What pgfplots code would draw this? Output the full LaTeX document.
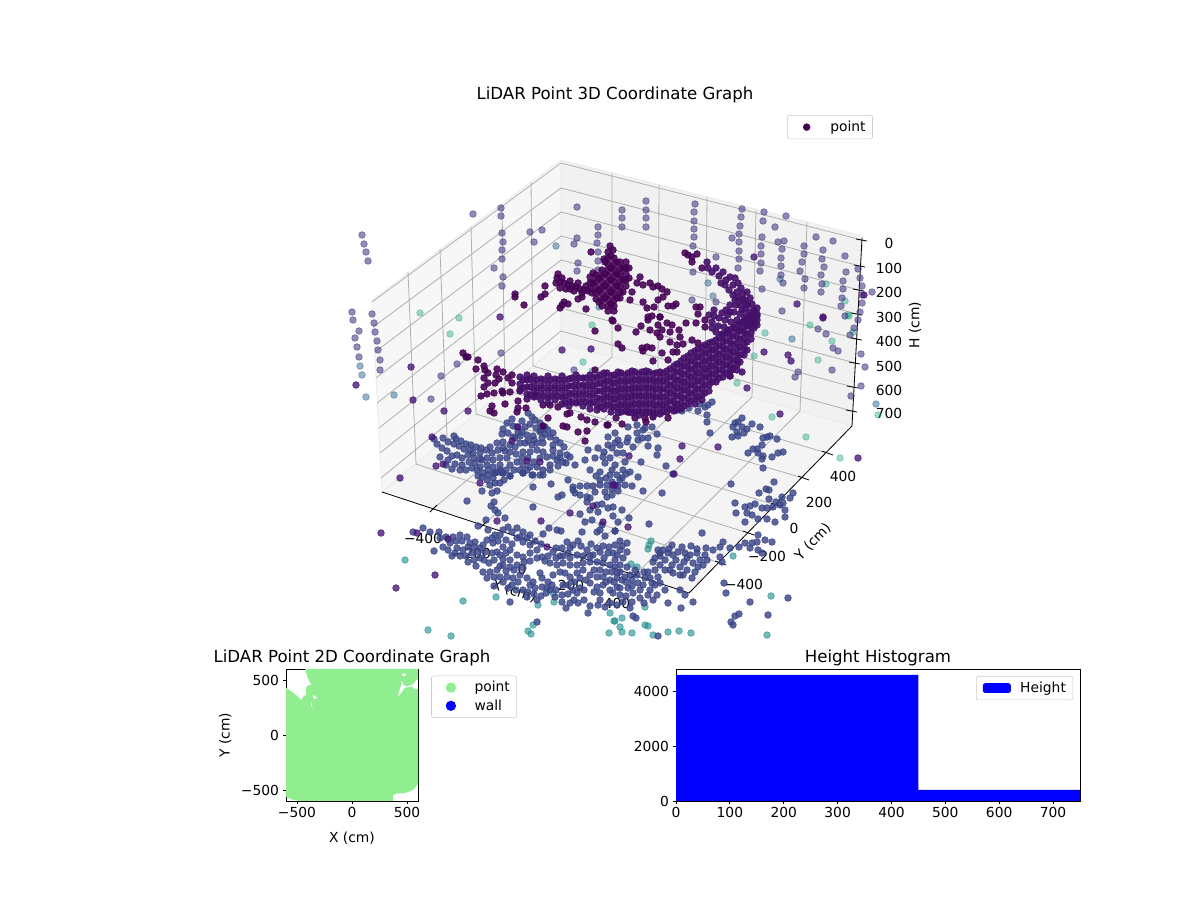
\documentclass[border=0pt]{standalone}
\usepackage{pgfplots}
\pgfplotsset{compat=1.18}
\usepackage{fontspec}
\setmainfont{DejaVu Sans}
\definecolor{gridc}{HTML}{B0B0B0}
\definecolor{cP}{HTML}{440154}
\definecolor{cR}{HTML}{45106A}
\definecolor{cQ}{HTML}{461476}
\definecolor{cF}{HTML}{3B4688}
\definecolor{cW}{HTML}{443983}
\definecolor{cS}{HTML}{31688E}
\definecolor{cT}{HTML}{21A585}
\definecolor{cB}{HTML}{218F8D}
\definecolor{green2}{HTML}{90EE90}
\pgfplotsset{
  pts/.style n args={2}{only marks, mark=*, mark size=2.4bp,
    mark options={draw=#1, fill=#1, line width=0.5bp, draw opacity=#2, fill opacity=#2}},
  gl/.style={gridc, line width=0.58bp, forget plot},
  tk/.style={black, line width=0.58bp, forget plot},
  legstyle/.style={legend cell align=left,
    legend style={draw=black!20, rounded corners=1.5bp, font=\fontsize{10}{12}\selectfont}},
  realax/.style={scale only axis, axis line style={line width=0.58bp}, tick align=outside,
    major tick length=2.52bp, tick style={black, line width=0.58bp},
    xtick pos=bottom, ytick pos=left, title style={font=\fontsize{12}{14}\selectfont, yshift=-7bp},
    xticklabel style={yshift=1.5bp}, yticklabel style={xshift=1bp}, legstyle},
}
\begin{document}
\begin{tikzpicture}
\useasboundingbox (0,0) rectangle (864bp,648bp);
% background: panes, grid, ticks and labels of the 3D plot, in reference pixel coordinates
\begin{axis}[at={(0,0)}, anchor=south west, scale only axis, width=864bp, height=648bp,
  hide axis, xmin=0, xmax=1200, ymin=0, ymax=900, y dir=reverse, clip=false]
\addplot[fill=black!3, draw=black!8, line width=0.6bp, forget plot] coordinates {(372,300)(561,160)(561,343)(382,492)} --cycle;
\addplot[fill=black!5.5, draw=black!8, line width=0.6bp, forget plot] coordinates {(561,160)(863,236)(852,426)(561,343)} --cycle;
\addplot[fill=black!4.5, draw=black!8, line width=0.6bp, forget plot] coordinates {(382,492)(561,343)(852,426)(689,593)} --cycle;
\addplot[gl] coordinates {(372,302)(561,163)(862,240)};
\addplot[gl] coordinates {(373,327)(561,188)(860,266)};
\addplot[gl] coordinates {(375,352)(561,212)(859,290)};
\addplot[gl] coordinates {(376,378)(561,236)(857,314)};
\addplot[gl] coordinates {(377,403)(561,260)(857,339)};
\addplot[gl] coordinates {(379,428)(561,284)(855,363)};
\addplot[gl] coordinates {(380,453)(561,308)(853,387)};
\addplot[gl] coordinates {(381,478)(561,331)(852,411)};
\addplot[gl] coordinates {(408,272)(416,464)(720,563)};
\addplot[gl] coordinates {(440,249)(447,438)(748,533)};
\addplot[gl] coordinates {(471,227)(476,414)(776,505)};
\addplot[gl] coordinates {(502,205)(505,390)(803,478)};
\addplot[gl] coordinates {(531,182)(533,366)(827,453)};
\addplot[gl] coordinates {(612,173)(612,357)(433,509)};
\addplot[gl] coordinates {(659,185)(658,371)(483,525)};
\addplot[gl] coordinates {(707,197)(705,384)(533,542)};
\addplot[gl] coordinates {(756,210)(752,397)(583,558)};
\addplot[gl] coordinates {(807,222)(800,411)(635,575)};
\addplot[tk] coordinates {(382,492)(689,593)(852,426)(862,238)};
\addplot[tk] coordinates {(856,239)(867,241)};
\addplot[tk] coordinates {(854,265)(865,267)};
\addplot[tk] coordinates {(853,289)(864,291)};
\addplot[tk] coordinates {(851,313)(862,315)};
\addplot[tk] coordinates {(851,338)(862,340)};
\addplot[tk] coordinates {(849,362)(860,364)};
\addplot[tk] coordinates {(847,386)(858,388)};
\addplot[tk] coordinates {(846,410)(857,412)};
\addplot[tk] coordinates {(430,512)(437,505)};
\addplot[tk] coordinates {(480,528)(487,521)};
\addplot[tk] coordinates {(530,545)(537,538)};
\addplot[tk] coordinates {(580,561)(587,554)};
\addplot[tk] coordinates {(632,578)(639,571)};
\addplot[tk] coordinates {(715,561)(726,565)};
\addplot[tk] coordinates {(743,531)(754,535)};
\addplot[tk] coordinates {(771,503)(782,507)};
\addplot[tk] coordinates {(798,476)(809,480)};
\addplot[tk] coordinates {(822,451)(833,455)};
\node[font=\fontsize{12}{14}\selectfont] at (615,95) {LiDAR Point 3D Coordinate Graph};
\foreach \v/\y in {0/243,100/268,200/292,300/317,400/341,500/366,600/390,700/413}{
  \edef\temp{\noexpand\node[anchor=base] at (axis cs:889,\y+5) {\v};}\temp}
\node[rotate=90] at (915,325) {H (cm)};
\node at (423,538) {−400};
\node at (472,553) {−200};
\node at (522,569) {0};
\node at (571,585) {200};
\node at (617,603) {400};
\node[rotate=-18] at (514,591) {X (cm)};
\node at (744,584) {−400};
\node at (767,556) {−200};
\node at (794,528) {0};
\node at (819,502) {200};
\node at (843,476) {400};
\node[rotate=46] at (813,542) {Y (cm)};
\end{axis}
% points of the 3D plot, as seen on the screen, clipped as in the reference
\begin{axis}[at={(253.44bp,190.08bp)}, anchor=south west, scale only axis, width=378.72bp, height=377.28bp,
  hide axis, xmin=352, xmax=878, ymin=112, ymax=636, y dir=reverse]
\addplot[pts={cT}{0.42}] coordinates {(420,313)(459,318)(450,334)(583,362)(592,371)(592,325)(826,284)(845,301)(849,316)(810,325)(765,333)(754,356)(818,360)(737,383)(772,417)(806,437)(840,458)(832,341)(848,315)(853,332)(878,415)};
\addplot[pts={cS}{0.5}] coordinates {(556,246)(366,397)(394,395)(708,283)(713,296)(780,279)(792,339)(599,307)(876,404)(360,366)(362,375)};
\addplot[pts={cW}{0.58}] coordinates {(473,214)(501,208)(501,216)(502,233)(503,242)(502,250)(502,259)(494,268)(503,277)(502,286)(530,232)(542,230)(534,242)(577,207)(598,227)(598,235)(597,243)(598,252)(598,261)(598,270)(577,238)(574,244)(578,263)(577,271)
(362,235)(364,244)(366,252)(368,261)(350,295)(351,302)(352,312)(353,320)(372,314)(374,323)(375,332)(377,341)(378,350)(380,360)(380,370)(359,331)(355,338)(357,347)(359,357)(431,399)(441,376)(457,364)(501,353)(574,370)
(646,201)(646,210)(646,218)(646,227)(622,210)(622,218)(622,227)(695,204)(694,212)(694,221)(694,229)(694,237)(693,246)(693,272)(716,257)(742,209)(741,217)(740,226)(739,234)(739,242)(739,251)(739,259)(738,268)(764,212)(763,221)(775,227)(786,216)(762,237)(761,246)(761,254)(761,263)(760,271)(778,242)(784,241)(782,249)(781,258)(781,266)(781,275)(783,283)(762,289)(816,237)(833,241)(804,246)(804,254)(802,262)(800,271)(805,279)(804,288)(823,250)(822,259)(824,267)(821,275)(822,284)(821,292)(845,256)(846,272)(843,281)(843,289)(842,298)(841,306)(845,316)(858,269)(860,278)(862,286)(862,295)(872,292)(862,303)(860,312)(782,311)(692,300)(716,302)(732,238)
(818,329)(826,334)(833,348)(838,351)(850,335)(854,328)(858,320)(861,354)(865,367)(861,386)(851,396)(832,370)(795,377)(798,372)};
\addplot[pts={cB}{0.62}] coordinates {(405,560)(463,601)(496,597)(428,630)(451,636)(528,631)(533,625)(531,634)(553,593)(538,605)(554,602)(610,613)(615,621)(609,633)(620,627)(651,541)(648,549)(649,545)(631,564)(637,567)(645,607)(622,618)(614,621)(645,625)(648,626)(668,632)(679,631)(691,633)(622,632)(632,633)(653,635)(767,635)(733,556)(771,596)};
\addplot[pts={cF}{0.82}] coordinates {
(512,419)(517,427)(522,421)(528,413)(532,417)(535,420)(540,423)(548,430)(503,429)(502,434)(508,433)(513,437)(522,432)(527,435)(533,436)(542,438)(550,437)(503,442)(510,445)(515,447)(520,443)(525,443)(532,445)(537,443)(543,443)(553,445)(523,452)(530,452)(537,450)(543,452)(553,450)(560,453)(567,455)(570,457)
(434,439)(437,444)(442,448)(447,451)(443,438)(448,442)(454,444)(454,436)(459,446)(464,449)(470,450)(473,453)(480,453)(457,455)(452,456)(440,457)(455,464)(462,465)(469,462)(475,463)(482,460)(490,447)(492,453)(498,450)(487,458)(493,460)(500,458)(507,458)(480,467)(487,465)(493,467)(500,465)(510,465)(517,462)(523,465)(530,467)(537,467)(543,470)(550,465)(557,460)(563,462)(477,470)(483,473)(497,472)(503,473)(510,476)(523,473)(533,475)(543,475)(482,477)(488,475)(495,473)(503,473)(510,476)(523,473)(532,475)(540,475)
(482,491)(490,485)(495,483)(500,483)(492,493)(497,491)(467,501)(494,502)(491,506)(495,510)(498,513)(505,518)(486,520)(478,526)(533,507)(533,487)(551,484)(580,514)(602,525)
(558,497)(562,495)(568,480)(573,487)(580,486)(587,486)(593,486)(600,485)(607,485)(573,490)(587,497)(590,498)(607,497)(612,495)(598,512)(597,505)(602,504)(587,502)
(582,532)(597,532)(605,536)(615,531)(549,528)(557,530)(561,531)(543,534)
(413,532)(423,528)(430,532)(439,532)(440,538)(453,537)(460,535)(467,537)(475,542)(443,547)(434,551)(448,550)(452,556)(457,548)(463,550)(470,543)(483,545)(493,543)(495,535)(503,530)(508,527)(488,530)(517,528)(523,532)(530,535)(517,538)(503,547)(510,550)(523,542)(530,545)(537,550)(560,556)(567,542)(573,545)(578,541)(568,553)(577,555)(587,550)(593,555)(608,553)(617,555)
(468,562)(480,558)(485,552)(492,553)(497,552)(503,559)(510,560)(517,555)(523,557)(530,553)(537,558)(542,557)(550,563)(557,565)(563,563)(570,565)(577,565)(583,563)(590,562)(597,562)(603,563)(610,565)(615,567)(483,572)(490,572)(497,570)(503,565)(510,567)(517,565)(523,568)(500,577)(507,577)(513,578)(520,575)(527,578)(533,582)(540,573)(542,578)(548,582)(553,575)(560,572)(565,573)(570,577)(577,573)(583,570)(590,575)(597,577)(603,577)(610,580)(617,578)(494,586)(503,582)(523,590)(530,585)(535,588)(542,587)(547,588)(552,585)(563,585)(573,590)(580,588)(590,583)(597,587)(603,585)(610,590)(617,587)(527,597)(537,600)(541,596)(555,597)(562,595)(570,603)(562,602)(577,593)(510,602)(590,606)(598,605)(605,607)(610,603)(617,605)(588,613)
(638,477)(643,491)(662,493)(613,507)(613,516)(629,518)(649,524)(615,531)(702,533)(731,484)(735,503)(736,513)(745,522)(774,482)(766,489)(759,493)(769,490)(793,493)(782,497)(790,498)(769,499)(776,502)(745,507)(750,506)(755,504)(762,508)(767,508)(773,507)(780,505)(783,503)(785,510)(785,517)(775,522)(767,519)(758,519)(752,515)(747,513)
(758,535)(765,540)(772,542)(757,542)(752,543)(745,543)(739,547)(750,548)(758,550)(762,553)(730,548)(723,542)(720,547)(713,550)(720,557)(722,562)
(658,550)(663,550)(669,549)(682,547)(691,546)(697,549)(660,556)(665,560)(673,555)(678,552)(685,553)(697,553)(705,555)(707,560)(687,558)(693,563)(698,567)(703,565)(670,570)(673,573)(683,575)(692,578)(695,572)(653,562)(680,567)
(620,541)(627,543)(620,550)(627,552)(613,553)(615,560)(623,558)(620,565)(627,567)(617,573)(625,577)(635,570)(645,578)(648,572)(655,570)(658,577)(638,583)(643,585)(652,583)(660,583)(665,590)(640,590)(648,595)(653,600)(657,595)(628,588)(620,588)(633,593)(632,602)(623,602)(620,595)(613,593)(680,590)(685,595)(668,603)(681,608)(693,602)
(724,583)(726,593)(750,602)(788,598)(768,615)(739,614)(735,616)(731,622)(733,625)(537,622)(633,616)(636,618)(658,636)
(712,402)(708,405)(700,404)(705,407)(698,411)(707,415)(707,422)(710,433)(689,408)(682,411)(657,434)(658,448)(657,455)(666,466)(641,462)(673,474)
(742,418)(738,422)(733,427)(752,424)(760,427)(742,427)(747,429)(737,432)(744,433)(732,437)(738,436)(735,423)(767,437)(763,438)(777,439)(762,445)(757,449)(753,449)(748,453)(758,453)(763,456)(762,459)(772,457)(778,453)(783,452)(763,468)(770,436)
(637,425)(628,427)(645,428)(652,427)(637,433)(628,438)(615,433)(608,437)(615,443)(620,445)(627,442)(633,447)(638,440)(642,438)(648,438)(648,446)(617,453)(623,453)(625,462)(623,470)(622,478)(603,457)(605,463)(612,470)(617,475)(630,472)(643,430)(588,450)(595,458)(590,470)(600,472)(575,465)(585,460)
(446,537)(450,543)(456,541)(462,541)(468,547)(474,547)(480,548)(487,540)(492,538)(498,541)(455,553)(460,556)(466,556)(472,553)(478,552)(484,560)(489,563)(494,560)(500,555)(506,553)(512,544)(506,540)(500,535)(512,532)(520,537)(527,538)(535,541)(541,544)(548,556)(553,552)(556,548)(562,548)(570,548)(581,546)(591,544)(597,548)(603,546)(609,547)(615,545)(622,546)(600,552)(604,558)(590,556)(583,556)(570,558)(563,556)(556,558)(545,561)(530,561)(524,562)(514,570)(506,571)(500,566)(494,577)(487,578)(476,566)(474,560)
(518,582)(512,585)(508,588)(516,590)(528,592)(534,594)(546,593)(550,590)(556,590)(568,585)(574,582)(580,578)(586,580)(594,570)(600,570)(606,572)(612,572)(620,572)(630,575)(632,580)(637,575)(644,572)(650,578)(655,585)(650,590)(632,586)(626,582)(622,580)(614,582)(606,582)(600,593)(594,592)(584,590)(568,594)(574,600)(578,603)(566,608)(584,600)(600,600)(626,596)(640,598)(644,603)(630,608)
(575,493)(580,495)(595,492)(605,492)(612,489)(618,491)(625,485)(632,486)(608,508)(590,510)(585,522)(592,520)(618,522)(622,510)(600,530)
(456,439)(461,441)(466,444)(471,445)(476,447)(481,448)(486,450)(468,455)(474,458)(480,459)(462,458)(448,460)(446,465)(452,469)(460,470)(466,470)(472,468)(488,470)(494,473)(500,472)(506,470)(514,470)(520,470)(527,470)(534,462)(540,458)(547,457)(553,456)(560,458)(566,463)(558,466)(550,470)(505,451)(510,452)(516,454)(522,458)(528,458)(497,443)(503,448)(515,438)(520,436)(528,441)(534,440)(540,432)(545,434)(553,433)(556,440)(560,443)(564,447)(507,423)(513,426)(518,432)(525,427)(530,424)(536,428)(541,430)(545,427)(500,470)(478,476)(487,480)(493,478)(504,480)
(612,482)(618,486)(610,475)(606,478)(600,480)(596,476)(620,480)(626,474)(615,465)(610,458)(604,452)(598,448)(612,448)(618,440)(608,445)
(660,553)(668,553)(672,545)(676,560)(684,562)(690,555)(700,560)(706,548)(672,565)(680,575)(687,570)(665,570)(660,565)(655,558)
};
\addplot[pts={cQ}{0.78}] coordinates {(381,533)(435,575)(396,588)(400,478)(480,483)(497,521)(541,521)(570,513)(603,522)(613,485)(593,506)(417,533)(448,539)(547,547)(432,437)(436,466)(443,464)(512,441)(518,427)(540,462)(527,461)(628,527)(615,485)(674,474)(682,446)(718,447)(680,459)(629,456)(411,367)(413,400)(356,385)(500,317)(444,411)(468,411)(562,350)(591,349)(823,317)(764,352)(788,355)(791,361)(747,388)(780,414)(858,458)(797,304)(754,257)(823,318)(864,295)};
\addplot[pts={cP}{0.88}] coordinates {
(463,353)(466,357)(468,357)(478,360)(476,369)(484,366)(485,370)(497,369)(503,372)(488,373)(496,375)(512,375)(484,378)(499,379)(508,378)(488,383)(495,383)(512,383)(484,387)(487,394)(481,396)(494,393)(502,391)(503,393)(510,392)(520,390)(518,401)(505,404)(492,406)(490,411)(494,413)(517,412)(518,408)(527,399)(535,395)(526,408)(543,405)(550,405)(558,407)(548,418)(543,426)(563,426)(567,427)(578,432)(587,431)(585,441)(607,425)(595,422)(587,420)(581,417)(570,413)(567,414)
(590,277)(590,283)(590,289)(596,275)(596,281)(596,287)(596,293)(596,299)(602,270)(602,276)(602,282)(602,288)(602,294)(602,300)(602,306)(608,252)(608,258)(608,264)(608,270)(608,276)(608,282)(608,288)(608,294)(608,300)(608,306)(608,311)(614,258)(614,264)(614,270)(614,276)(614,282)(614,288)(614,294)(614,300)(614,306)(614,311)(620,262)(620,268)(620,274)(620,280)(620,286)(620,292)(620,298)(626,262)(626,268)(626,274)(626,280)(626,286)
(599,278)(599,290)(599,302)(605,262)(605,274)(605,286)(605,298)(611,256)(611,268)(611,280)(611,292)(611,304)(617,262)(617,274)(617,286)(617,298)(623,268)(623,280)(623,292)(629,268)(629,278)(593,283)(593,273)(610,246)(613,250)
(557,278)(560,282)(564,283)(568,285)(572,286)(576,287)(580,289)(584,290)(588,291)(592,293)(558,274)(556,283)(562,278)(570,281)(578,283)(586,286)(566,289)(574,291)(582,293)
(591,252)(604,259)(545,286)(515,294)(515,297)(545,294)(541,297)(524,305)(564,302)(560,308)(568,304)(562,305)(586,309)(578,299)(582,297)(560,288)(570,289)
(640,277)(637,283)(643,285)(650,283)(653,287)(658,286)(662,289)(667,292)(663,297)(658,300)(630,300)(632,292)(643,302)(647,308)(654,307)(668,306)(673,306)(676,304)(696,307)(700,307)(698,314)(652,316)(660,317)(685,253)(688,255)(692,257)(697,254)(692,262)(702,268)
(613,321)(618,328)(636,332)(641,326)(648,320)(648,317)(650,330)(660,317)(658,325)(667,323)(672,325)(662,330)(657,333)(660,337)(670,332)(679,330)(680,337)(686,323)(696,323)(705,320)(705,327)(692,340)(683,344)(677,345)(670,342)(698,343)(677,352)(673,352)(642,348)(647,347)(652,348)(643,351)(618,344)(622,348)(653,361)(662,353)(668,360)(612,320)(595,331)(595,370)
(616,418)(608,425)(622,424)(635,418)(645,418)(653,417)(668,418)(628,412)(646,422)(730,376)};
\addplot[pts={cR}{0.9}] coordinates {
(520,377)(520,384)(520,391)(527,375)(527,380)(527,387)(527,394)(534,376)(534,383)(534,390)(534,397)(541,379)(541,386)(541,393)(541,400)(548,376)(548,383)(548,390)(548,397)(548,403)(555,379)(555,386)(555,393)(555,400)(562,376)(562,383)(562,390)(562,397)(562,404)(569,379)(569,386)(569,393)(569,400)(569,406)(576,375)(576,382)(576,389)(576,396)(576,403)(583,378)(583,385)(583,392)(583,399)(583,406)(590,375)(590,382)(590,389)(590,396)(590,403)(590,409)(597,377)(597,384)(597,391)(597,398)(597,405)(597,410)
(604,373)(604,379)(604,385)(604,391)(604,397)(604,403)(604,409)(611,376)(611,382)(611,388)(611,394)(611,400)(611,406)(611,412)(618,372)(618,378)(618,384)(618,390)(618,396)(618,402)(618,408)(618,413)(625,375)(625,381)(625,387)(625,393)(625,399)(625,405)(625,411)(632,371)(632,377)(632,383)(632,389)(632,395)(632,401)(632,407)(632,413)(639,374)(639,380)(639,386)(639,392)(639,398)(639,404)(639,410)(639,415)(646,371)(646,377)(646,383)(646,389)(646,395)(646,401)(646,407)(646,413)(653,374)(653,380)(653,386)(653,392)(653,398)(653,404)(653,410)(653,415)(660,372)(660,378)(660,384)(660,390)(660,396)(660,402)(660,408)(660,414)(667,371)(667,377)(667,383)(667,389)(667,395)(667,401)(667,407)(667,412)
(674,366)(674,372)(674,378)(674,384)(674,390)(674,396)(674,402)(674,408)(674,411)(681,361)(681,367)(681,373)(681,379)(681,385)(681,391)(681,397)(681,403)(681,409)(688,356)(688,362)(688,368)(688,374)(688,380)(688,386)(688,392)(688,398)(688,404)(695,351)(695,357)(695,363)(695,369)(695,375)(695,381)(695,387)(695,393)(695,399)(695,404)(702,347)(702,353)(702,359)(702,365)(702,371)(702,377)(702,383)(702,389)(702,395)(702,400)(709,343)(709,349)(709,355)(709,361)(709,367)(709,373)(709,379)(709,385)(709,391)(716,340)(716,346)(716,352)(716,358)(716,364)(716,370)(716,376)(716,382)(723,335)(723,341)(723,347)(723,353)(723,359)(723,365)(723,371)(723,377)(730,330)(730,336)(730,342)(730,348)(730,354)(730,360)(730,366)(730,371)(737,325)(737,331)(737,337)(737,343)(737,349)(737,355)(737,361)(737,365)(744,320)(744,326)(744,332)(744,338)(744,344)(744,350)(744,355)(751,315)(751,321)(751,327)(751,333)(751,339)(757,308)(757,314)(757,320)(757,325)
(600,375)(600,383)(600,391)(600,399)(600,407)(607,373)(607,381)(607,389)(607,397)(607,405)(614,375)(614,383)(614,391)(614,399)(614,407)(621,373)(621,381)(621,389)(621,397)(621,405)(621,412)(628,373)(628,381)(628,389)(628,397)(628,405)(628,412)(635,372)(635,380)(635,388)(635,396)(635,404)(635,412)(642,372)(642,380)(642,388)(642,396)(642,404)(642,412)(649,372)(649,380)(649,388)(649,396)(649,404)(649,412)(656,373)(656,381)(656,389)(656,397)(656,405)(656,413)(663,373)(663,381)(663,389)(663,397)(663,405)(663,412)(670,369)(670,377)(670,385)(670,393)(670,401)(670,409)
(677,364)(677,372)(677,380)(677,388)(677,396)(677,404)(677,410)(684,358)(684,366)(684,374)(684,382)(684,390)(684,398)(684,406)(691,353)(691,361)(691,369)(691,377)(691,385)(691,393)(691,401)(698,349)(698,357)(698,365)(698,373)(698,381)(698,389)(698,397)(705,345)(705,353)(705,361)(705,369)(705,377)(705,385)(705,393)(712,342)(712,350)(712,358)(712,366)(712,374)(712,382)(719,338)(719,346)(719,354)(719,362)(719,370)(719,378)(726,333)(726,341)(726,349)(726,357)(726,365)(726,373)(733,328)(733,336)(733,344)(733,352)(733,360)(733,368)(740,323)(740,331)(740,339)(740,347)(740,355)(740,362)(747,318)(747,326)(747,334)(747,342)(747,350)(754,312)(754,320)(754,328)
(523,380)(523,388)(530,379)(530,387)(530,395)(537,380)(537,388)(537,396)(544,380)(544,388)(544,396)(551,380)(551,388)(551,396)(558,380)(558,388)(558,396)(565,380)(565,388)(565,396)(565,403)(572,378)(572,386)(572,394)(572,402)(579,378)(579,386)(579,394)(579,402)(586,378)(586,386)(586,394)(586,402)(593,378)(593,386)(593,394)(593,402)
(707,262)(708,268)(712,272)(716,268)(719,276)(723,272)(726,280)(721,283)(730,277)(735,278)(733,285)(738,283)(741,288)(737,292)(743,294)(747,292)(745,300)(750,298)(752,304)(748,305)(754,310)(750,312)(745,309)(740,305)(735,300)(730,305)(726,310)(722,313)(728,315)(734,312)(740,314)(746,316)(752,318)(757,316)(755,322)(749,324)(743,322)(737,320)(731,322)(725,320)(719,318)(714,316)(712,322)(718,326)(724,327)(716,332)(722,334)(728,330)(734,328)(740,330)(714,310)(709,315)(712,328)(725,285)(729,290)(733,295)(738,298)(742,300)(746,304)(736,305)(730,312)(742,310)
(730,376)(737,370)(742,372)(732,370)};
\end{axis}
% legend of the 3D plot, in its own axis with an upward y
\begin{axis}[legstyle, at={(0,0)}, anchor=south west, scale only axis, width=864bp, height=648bp,
  hide axis, xmin=0, xmax=1, ymin=0, ymax=1,
  legend style={at={(0.6558,0.8722)}, anchor=north west}]
\addlegendimage{legend image code/.code={\path[draw=none,fill=none] (0bp,0bp)--(26bp,0bp); \fill[cP, draw=none] (11bp,0bp) circle (2.7bp);}}
\addlegendentry{point}
\end{axis}
% 2D coordinate graph
\begin{axis}[realax, at={(205.92bp,71.28bp)}, anchor=south west, width=95.04bp, height=95.04bp,
  xmin=-600, xmax=600, ymin=-600, ymax=600,
  xtick={-500,0,500}, xticklabels={−500,0,500}, ytick={-500,0,500}, yticklabels={−500,0,500},
  title={LiDAR Point 2D Coordinate Graph}, xlabel={X (cm)}, ylabel={Y (cm)},
  xlabel style={yshift=-3.5bp}, ylabel style={yshift=0bp},
  legend style={at={(1.1,0.95)}, anchor=north west}]
\addplot[fill=green2, draw=none, forget plot] coordinates {(-427,600)(600,600)(600,515)(554,461)(554,424)(600,415)(600,-445)(554,-500)(479,-530)(418,-530)(373,-545)(373,-600)(-476,-600)(-551,-585)(-600,-560)(-600,430)(-527,379)(-461,318)(-439,355)(-415,364)(-421,409)(-409,448)(-370,457)(-400,515)} --cycle;
\addplot[fill=white, draw=none, forget plot] coordinates {(-355,364)(-318,342)(-339,324)(-355,342)} --cycle;
\addplot[fill=white, draw=none, forget plot] coordinates {(-370,303)(-358,242)(-373,273)} --cycle;
\addplot[fill=white, draw=none, forget plot] coordinates {(465,560)(483,560)(494,548)(483,535)(465,535)(454,548)} --cycle;
\addplot[fill=white, draw=none, forget plot] coordinates {(454,494)(470,455)(494,439)(554,461)(554,440)(479,430)(445,379)(418,354)(433,409)(448,455)} --cycle;
\addlegendimage{legend image code/.code={\path[draw=none,fill=none] (0bp,0bp)--(26bp,0bp); \fill[green2, draw=none] (11bp,0bp) circle (3.7bp);}}
\addlegendentry{point}
\addlegendimage{legend image code/.code={\path[draw=none,fill=none] (0bp,0bp)--(26bp,0bp); \fill[blue, draw=none] (11bp,0bp) circle (3.7bp);}}
\addlegendentry{wall}
\end{axis}
% height histogram
\begin{axis}[realax, at={(486.72bp,71.28bp)}, anchor=south west, width=290.88bp, height=95.04bp,
  xmin=0, xmax=750, ymin=0, ymax=4800,
  xtick={0,100,...,700}, ytick={0,2000,4000},
  title={Height Histogram},
  yticklabel style={/pgf/number format/1000 sep={}, /pgf/number format/assume math mode=true},
  xticklabel style={/pgf/number format/assume math mode=true},
  legend style={at={(0.983,0.947)}, anchor=north east}]
\addplot[fill=blue, draw=none, forget plot] coordinates {(0,0)(0,4582)(450,4582)(450,400)(750,400)(750,0)} --cycle;
\addlegendimage{legend image code/.code={\path[draw=none,fill=none] (0bp,0bp)--(26.6bp,0bp); \fill[blue, draw=none] (1.8bp,-3.5bp) rectangle (21.8bp,3.5bp);}}
\addlegendentry{Height}
\end{axis}
\end{tikzpicture}
\end{document}
